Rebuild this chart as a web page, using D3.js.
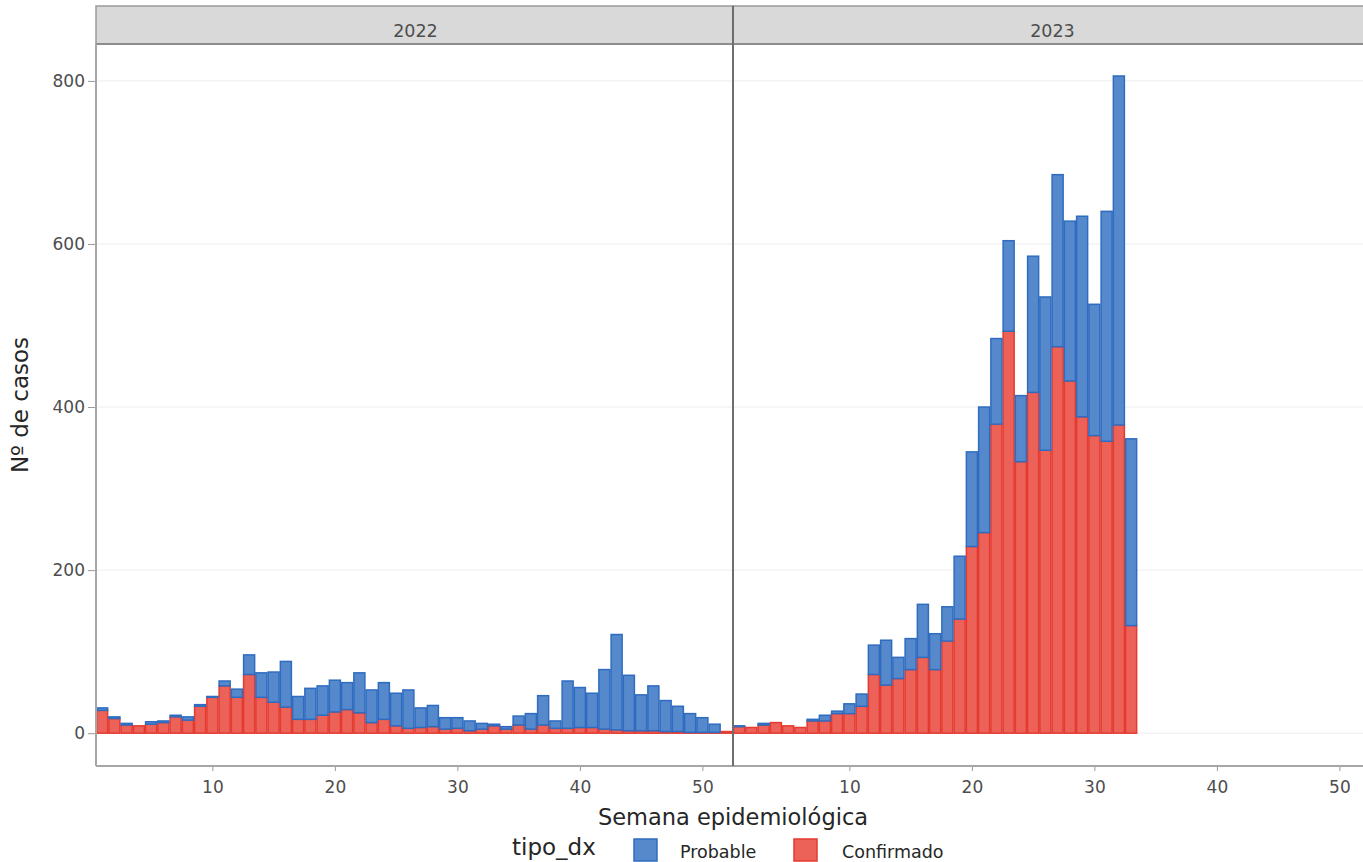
<!DOCTYPE html>
<html>
<head>
<meta charset="utf-8">
<script src="https://cdn.jsdelivr.net/npm/d3@7"></script>
<style>
  body { margin: 0; background: #fff; overflow: hidden; }
  text { font-family: "DejaVu Sans", Verdana, sans-serif; }
</style>
</head>
<body>
<svg id="chart" width="1363" height="862"></svg>
<script>
// weekly counts
const years = ["2022", "2023"]
const weeks2022 = d3.range(1, 53)
const weeks2023 = d3.range(1, 34)
const confirmado2022 = [28,18,10,9,11,13,20,16,33,44,58,44,72,44,38,32,17,17,22,26,29,25,13,17,9,6,7,8,5,6,3,5,9,5,10,5,10,6,6,7,7,5,4,3,3,3,2,2,1,1,1,2]
const total2022 = [31,20,12,9,14,15,22,20,35,45,64,54,96,74,75,88,45,55,58,65,62,74,53,62,49,53,31,34,19,19,15,12,11,8,21,24,46,15,64,56,49,78,121,71,47,58,40,33,24,19,11,2]
const confirmado2023 = [8,7,10,13,9,7,15,15,24,24,33,72,59,67,78,93,78,113,140,229,246,379,493,333,418,347,474,432,388,365,358,378,132]
const total2023 = [9,7,12,13,9,7,17,22,27,36,48,108,114,93,116,158,122,155,217,345,400,484,604,414,585,535,685,628,634,526,640,806,361]
const yTicks = [0, 200, 400, 600, 800]
const xTicks = [10, 20, 30, 40, 50]
const tipos = ["Probable", "Confirmado"]

const colors = {
  Probable: { fill: "#5589cc", stroke: "#2f6cc0" },
  Confirmado: { fill: "#ec6259", stroke: "#e43a2f" }
}

const svg = d3.select("#chart")
const plotTop = 44, plotBottom = 766
const panelW = 637
const panels = [
  { year: years[0], x0: 96, weeks: weeks2022, conf: confirmado2022, tot: total2022 },
  { year: years[1], x0: 733, weeks: weeks2023, conf: confirmado2023, tot: total2023 }
]

const y = d3.scaleLinear().domain([-40.25, 845.25]).range([plotBottom, plotTop])

panels.forEach(p => {
  const x = d3.scaleLinear().domain([0.5, 52.5]).range([p.x0, p.x0 + panelW])
  const g = svg.append("g")

  // grid
  g.selectAll(".grid").data(yTicks).join("line")
    .attr("x1", p.x0).attr("x2", p.x0 + panelW)
    .attr("y1", d => y(d)).attr("y2", d => y(d))
    .attr("stroke", "#ededed").attr("stroke-width", 1)

  // strip
  g.append("rect")
    .attr("x", p.x0).attr("y", 6).attr("width", panelW).attr("height", plotTop - 6)
    .attr("fill", "#d9d9d9").attr("stroke", "#9a9a9a").attr("stroke-width", 1.5)
  g.append("line").attr("x1", p.x0).attr("x2", p.x0 + panelW)
    .attr("y1", plotTop).attr("y2", plotTop).attr("stroke", "#8c8c8c").attr("stroke-width", 2)
  g.append("text")
    .attr("x", p.x0 + panelW / 2 + 1).attr("y", 37)
    .attr("text-anchor", "middle").attr("font-size", 17.5).attr("fill", "#4d4d4d")
    .text(p.year)

  const rows = p.weeks.map((w, i) => ({ w, conf: p.conf[i], tot: p.tot[i] }))
  const bw = x(1) - x(0)

  // confirmed at the bottom
  g.selectAll(".conf").data(rows).join("rect")
    .attr("x", d => x(d.w) - bw * 0.45).attr("width", bw * 0.9)
    .attr("y", d => y(d.conf)).attr("height", d => y(0) - y(d.conf))
    .attr("fill", colors.Confirmado.fill).attr("stroke", colors.Confirmado.stroke).attr("stroke-width", 1.5)

  // probable stacked on top
  g.selectAll(".prob").data(rows.filter(d => d.tot > d.conf)).join("rect")
    .attr("x", d => x(d.w) - bw * 0.45).attr("width", bw * 0.9)
    .attr("y", d => y(d.tot)).attr("height", d => y(d.conf) - y(d.tot))
    .attr("fill", colors.Probable.fill).attr("stroke", colors.Probable.stroke).attr("stroke-width", 1.5)

  // x axis
  const xa = g.append("g").attr("transform", `translate(0,${plotBottom})`)
    .call(d3.axisBottom(x).tickValues(xTicks).tickSize(5).tickPadding(10).tickFormat(d3.format("d")))
  xa.select(".domain").remove()
  xa.selectAll("line").attr("stroke", "#999")
  xa.selectAll("text").attr("font-size", 17).attr("fill", "#4d4d4d")
  g.append("line").attr("x1", p.x0).attr("x2", p.x0 + panelW)
    .attr("y1", plotBottom).attr("y2", plotBottom).attr("stroke", "#a6a6a6").attr("stroke-width", 2)
})

// y axis
const ya = svg.append("g").attr("transform", "translate(96,0)")
  .call(d3.axisLeft(y).tickValues(yTicks).tickSize(8).tickPadding(3))
ya.select(".domain").remove()
ya.selectAll("line").attr("stroke", "#999")
ya.selectAll("text").attr("font-size", 17).attr("fill", "#4d4d4d")
svg.append("line").attr("x1", 96).attr("x2", 96).attr("y1", plotTop).attr("y2", plotBottom)
  .attr("stroke", "#a6a6a6").attr("stroke-width", 2)
svg.append("line").attr("x1", 733).attr("x2", 733).attr("y1", 6).attr("y2", plotBottom)
  .attr("stroke", "#6e6e6e").attr("stroke-width", 2)

// titles
svg.append("text").attr("x", 733).attr("y", 825).attr("text-anchor", "middle")
  .attr("font-size", 22.5).attr("fill", "#262626").text("Semana epidemiológica")
svg.append("text").attr("transform", "translate(28,405) rotate(-90)").attr("text-anchor", "middle")
  .attr("font-size", 23).attr("fill", "#262626").text("Nº de casos")

// legend
const leg = svg.append("g")
leg.append("text").attr("x", 512).attr("y", 855).attr("font-size", 23).attr("fill", "#262626").text("tipo_dx")
const legX = [634, 794]
const legLabelX = [680, 842]
tipos.forEach((t, i) => {
  leg.append("rect").attr("x", legX[i]).attr("y", 839).attr("width", 23).attr("height", 22)
    .attr("fill", colors[t].fill).attr("stroke", colors[t].stroke).attr("stroke-width", 1.5)
  leg.append("text").attr("x", legLabelX[i]).attr("y", 858).attr("font-size", 17.5).attr("fill", "#262626").text(t)
})
</script>
</body>
</html>
